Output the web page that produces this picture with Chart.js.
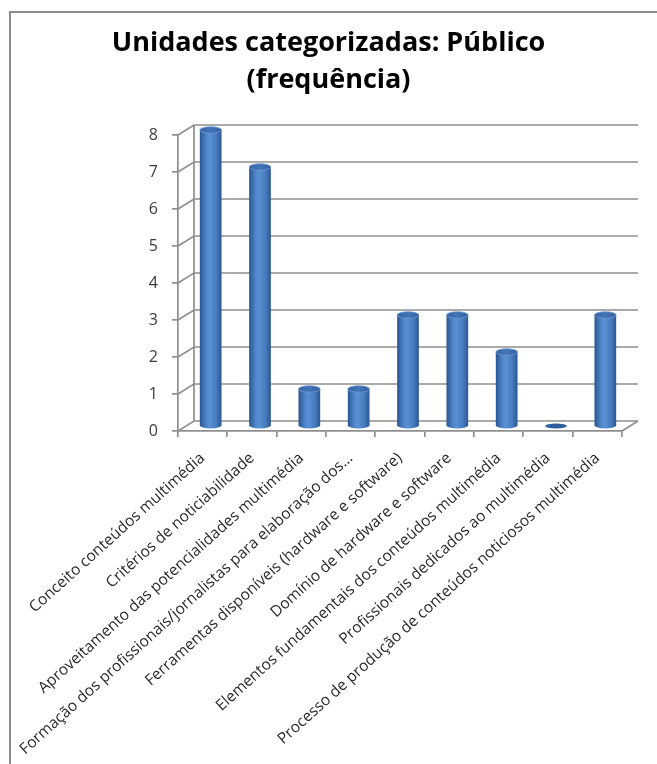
<!DOCTYPE html>
<html>
<head>
<meta charset="utf-8">
<script src="https://cdn.jsdelivr.net/npm/chart.js@4/dist/chart.umd.min.js"></script>
<style>
  html, body { margin: 0; padding: 0; background: #fff; }
  #wrap { position: relative; width: 657px; height: 764px; }
  #frame { position: absolute; left: 9px; top: 11px; right: 0; bottom: 0;
           border-top: 2px solid #8c8c8c; border-left: 2px solid #8c8c8c; pointer-events: none; }
</style>
</head>
<body>
<div id="wrap">
  <canvas id="c" width="657" height="764"></canvas>
  <div id="frame"></div>
</div>
<script>
const titleLines = ['Unidades categorizadas: Público', '(frequência)'];

const categories = [
  'Conceito conteúdos multimédia',
  'Critérios de noticiabilidade',
  'Aproveitamento das potencialidades multimédia',
  'Formação dos profissionais/jornalistas para elaboração dos...',
  'Ferramentas disponíveis (hardware e software)',
  'Domínio de hardware e software',
  'Elementos fundamentais dos conteúdos multimédia',
  'Profissionais dedicados ao multimédia',
  'Processo de produção de conteúdos noticiosos multimédia'
];

const frequencies = [8, 7, 1, 1, 3, 3, 2, 0, 3];

const yTicks = [0, 1, 2, 3, 4, 5, 6, 7, 8];

// depth of the 3D box (back wall offset from the front plane)
const DEPTH_X = 16;
const DEPTH_Y = -10;
const LINE = '#8f8f8f';

const box3d = {
  id: 'box3d',
  beforeDatasetsDraw(chart) {
    const { ctx, chartArea: a, scales: { y } } = chart;
    const y0 = y.getPixelForValue(yTicks[0]);
    const yTop = y.getPixelForValue(yTicks[yTicks.length - 1]);
    ctx.save();
    ctx.strokeStyle = LINE;
    ctx.lineWidth = 1.7;
    ctx.beginPath();
    yTicks.forEach(v => {
      const py = y.getPixelForValue(v);
      ctx.moveTo(a.left, py);
      ctx.lineTo(a.left + DEPTH_X, py + DEPTH_Y);
      ctx.lineTo(a.right + DEPTH_X, py + DEPTH_Y);
    });
    // back corner of the walls
    ctx.moveTo(a.left + DEPTH_X, yTop + DEPTH_Y);
    ctx.lineTo(a.left + DEPTH_X, y0 + DEPTH_Y);
    // right edge of the floor
    ctx.moveTo(a.right, y0);
    ctx.lineTo(a.right + DEPTH_X, y0 + DEPTH_Y);
    ctx.stroke();
    ctx.restore();
  },
  afterDatasetsDraw(chart) {
    const { ctx } = chart;
    const meta = chart.getDatasetMeta(0);
    ctx.save();
    meta.data.forEach(bar => {
      const cx = bar.x + DEPTH_X / 2;
      const top = bar.y + DEPTH_Y / 2;
      const bottom = bar.base + DEPTH_Y / 2;
      const rx = bar.width / 2;
      const ry = rx * 0.3;
      if (bottom - top > 0.5) {
        const g = ctx.createLinearGradient(cx - rx, 0, cx + rx, 0);
        g.addColorStop(0, '#2a5590');
        g.addColorStop(0.3, '#4f86c9');
        g.addColorStop(0.45, '#5890d3');
        g.addColorStop(0.75, '#477dbf');
        g.addColorStop(1, '#2b5792');
        ctx.beginPath();
        ctx.moveTo(cx - rx, top);
        ctx.lineTo(cx - rx, bottom);
        ctx.ellipse(cx, bottom, rx, ry, 0, Math.PI, 0, true);
        ctx.lineTo(cx + rx, top);
        ctx.closePath();
        ctx.fillStyle = g;
        ctx.fill();
        // top cap
        const gt = ctx.createLinearGradient(cx - rx, 0, cx + rx, 0);
        gt.addColorStop(0, '#3565a4');
        gt.addColorStop(0.5, '#4474b6');
        gt.addColorStop(1, '#3463a1');
        ctx.beginPath();
        ctx.ellipse(cx, top, rx, ry, 0, 0, Math.PI * 2);
        ctx.fillStyle = gt;
        ctx.fill();
        ctx.strokeStyle = '#6d98d2';
        ctx.lineWidth = 0.8;
        ctx.stroke();
      } else {
        ctx.beginPath();
        ctx.ellipse(cx, bottom, rx, ry * 0.75, 0, 0, Math.PI * 2);
        ctx.fillStyle = '#2f5e9e';
        ctx.fill();
      }
    });
    ctx.restore();
  }
};

new Chart(document.getElementById('c'), {
  type: 'bar',
  data: {
    labels: categories,
    datasets: [{
      data: frequencies,
      backgroundColor: 'rgba(0,0,0,0)',
      borderWidth: 0,
      barPercentage: 0.44,
      categoryPercentage: 1
    }]
  },
  options: {
    responsive: false,
    animation: false,
    devicePixelRatio: 1,
    layout: { padding: 0 },
    plugins: {
      legend: { display: false },
      tooltip: { enabled: false },
      title: {
        display: true,
        text: titleLines,
        color: '#000',
        font: { family: 'Open Sans', size: 27, weight: 'bold', lineHeight: 1.37 },
        padding: { top: 25, bottom: 36 }
      }
    },
    scales: {
      x: {
        grid: { offset: true, drawOnChartArea: false, drawTicks: true, tickLength: 6, color: LINE, lineWidth: 1.7 },
        border: { display: true, color: LINE, width: 1.7 },
        ticks: {
          minRotation: 42, maxRotation: 42, autoSkip: false, padding: 12,
          color: '#2a2a2a', font: { family: 'Open Sans', size: 15.5 }
        },
        // keep the plot box fixed; room on the right holds the depth of the floor
        afterFit(s) { s.paddingLeft = 0; s.paddingRight = 35; s.height = 333; }
      },
      y: {
        min: 0, max: 8,
        grid: { drawOnChartArea: false, drawTicks: true, tickLength: 6, color: LINE, lineWidth: 1.7 },
        border: { display: true, color: LINE, width: 1.7 },
        ticks: { stepSize: 1, padding: 14, color: '#3c3c3c', font: { family: 'Open Sans', size: 16 } },
        afterBuildTicks(s) { s.ticks = yTicks.map(v => ({ value: v })); },
        afterFit(s) { s.width = 178; }
      }
    }
  },
  plugins: [box3d]
});
</script>
</body>
</html>
